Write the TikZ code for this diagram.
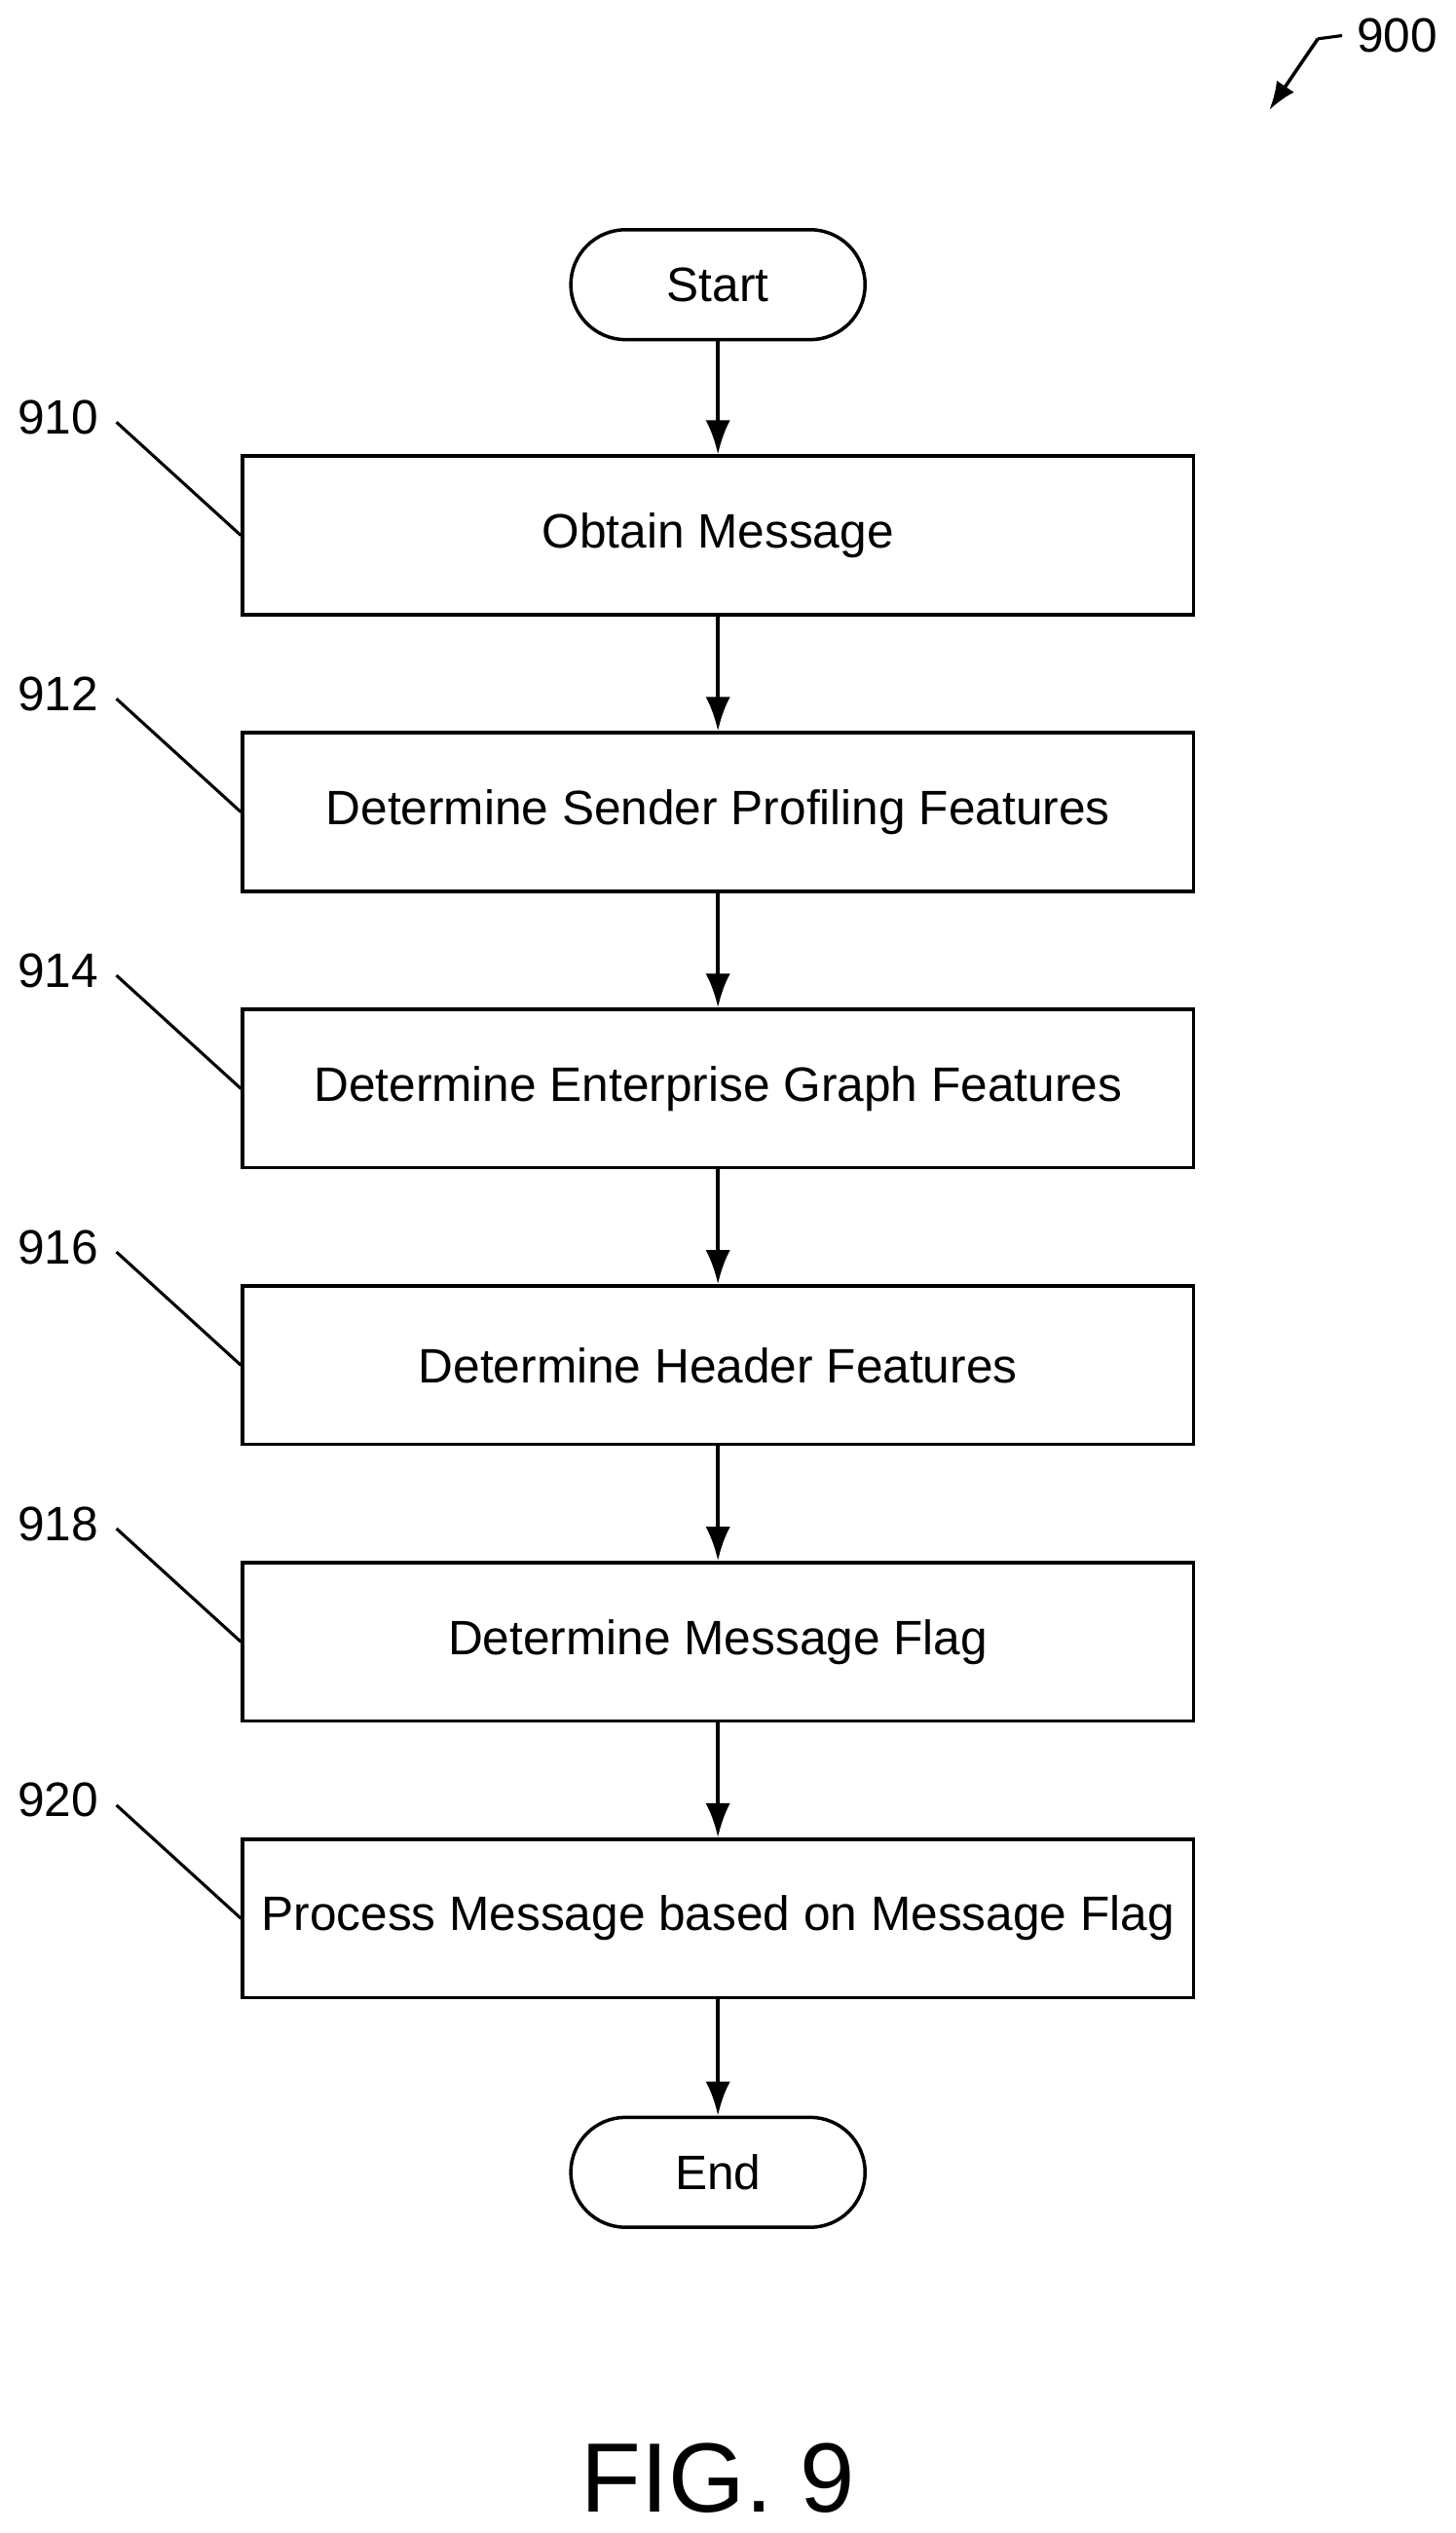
\documentclass[tikz,border=0pt]{standalone}
\usepackage{fontspec}
\usetikzlibrary{arrows.meta}
\setmainfont{Liberation Sans}
\begin{document}
\begin{tikzpicture}[x=0.03cm,y=-0.03cm,
  box/.style={draw,line width=1.8pt,minimum width=588*0.03cm,minimum height=98*0.03cm,inner sep=0pt,font=\fontsize{25.5}{30}\selectfont},
  term/.style={draw,line width=1.8pt,rounded corners=34*0.03cm,minimum width=182*0.03cm,minimum height=68*0.03cm,font=\fontsize{25.5}{30}\selectfont},
  arr/.style={line width=2.2pt,-{Latex[length=18pt,width=13pt]}},
  lead/.style={line width=1.6pt},
  lab/.style={font=\fontsize{25.5}{30}\selectfont}]
\useasboundingbox (0,0) rectangle (900,1566);
\node[term] (s) at (444,176) {Start};
\node[box] (b1) at (444,331) {Obtain Message};
\node[box] (b2) at (444,502) {Determine Sender Profiling Features};
\node[box] (b3) at (444,673) {Determine Enterprise Graph Features};
\node[box] (b4) at (444,844) {Determine Header Features};
\node[box] (b5) at (444,1015) {Determine Message Flag};
\node[box] (b6) at (444,1186) {Process Message based on Message Flag};
\node[term] (e) at (444,1343) {End};
\draw[arr] (s) -- (b1);
\draw[arr] (b1) -- (b2);
\draw[arr] (b2) -- (b3);
\draw[arr] (b3) -- (b4);
\draw[arr] (b4) -- (b5);
\draw[arr] (b5) -- (b6);
\draw[arr] (b6) -- (e);
\foreach \n/\t/\y in {b1/910/258,b2/912/429,b3/914/600,b4/916/771,b5/918/942,b6/920/1113}{
  \node[lab] (l\t) at (36,\y) {\t};
  \coordinate (c\t) at (72,\y+3);
  \draw[lead] (c\t) -- (\n.west);
}
\node[lab] (l900) at (864,22) {900};
\coordinate (k1) at (830,22);
\coordinate (k2) at (815,24);
\coordinate (k3) at (785,68);
\draw[lead] (k1) -- (k2);
\draw[line width=1.8pt,-{Latex[length=15pt,width=11pt]}] (k2) -- (k3);
\node[font=\fontsize{52}{62}\selectfont] (fig) at (444,1532) {FIG. 9};
\end{tikzpicture}
\end{document}
